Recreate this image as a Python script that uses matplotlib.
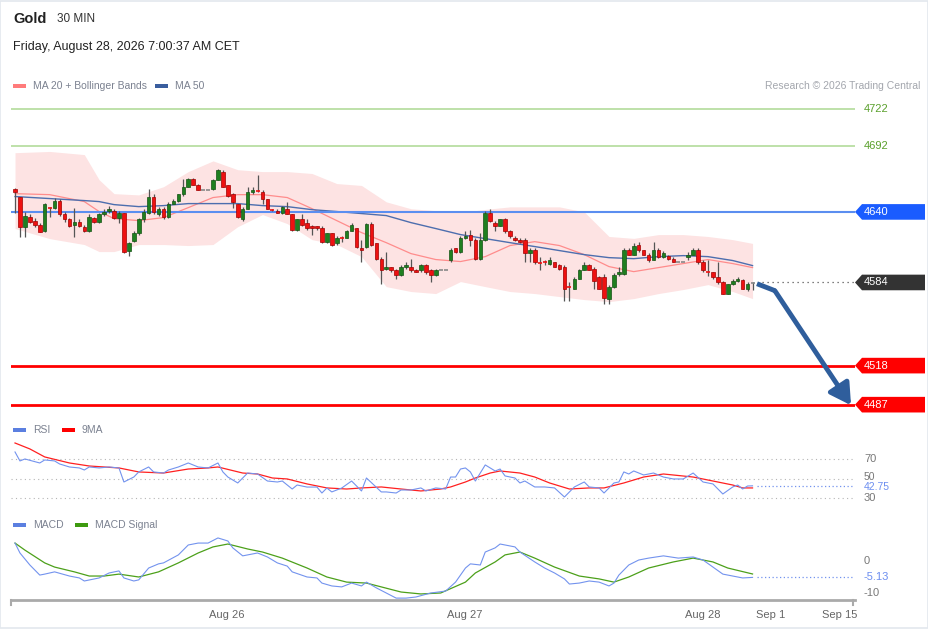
import matplotlib
matplotlib.use('Agg')
from matplotlib import pyplot as plt
from matplotlib.patches import Polygon, Rectangle
from matplotlib.transforms import blended_transform_factory

plt.rcParams['font.family'] = ['Liberation Sans', 'DejaVu Sans']

# ---- candles (30 min) ----
opens = [4658, 4652, 4628, 4636, 4633, 4630, 4625, 4643, 4643, 4649,
         4638, 4634, 4630, 4632, 4628, 4625, 4635, 4632, 4638, 4641,
         4641, 4635.5, 4639, 4609, 4617, 4623, 4634, 4639.5, 4652, 4638,
         4642.5, 4636, 4646.5, 4649, 4654, 4660, 4666.5, 4661.5, 4657.5, 4657.5,
         4658.5, 4665.5, 4672, 4661, 4654.5, 4646, 4634, 4642.5, 4656, 4657,
         4656, 4650, 4642, 4641, 4639.5, 4642.5, 4638, 4626, 4634, 4631,
         4628.5, 4628.5, 4627.5, 4616.5, 4623, 4615, 4619.5, 4619.5, 4625, 4627,
         4611.5, 4612.5, 4630.5, 4615, 4603, 4595, 4596, 4594, 4590, 4596.5,
         4596.5, 4594, 4593.5, 4598, 4594, 4590, 4594, 4594, 4602, 4611,
         4608.5, 4619.5, 4622, 4618, 4603, 4618, 4639.5, 4631.5, 4629, 4634,
         4625, 4619.5, 4618, 4618, 4607, 4610, 4600, 4600.5, 4599, 4600,
         4598, 4596.5, 4580.5, 4579, 4587, 4594, 4598, 4595, 4588.5, 4588.5,
         4571, 4580.5, 4591, 4591, 4610, 4606, 4614, 4609.5, 4606, 4602,
         4610, 4604.5, 4605, 4603, 4600.5, 4600.5, 4604.5, 4606, 4610, 4600.5,
         4592.5, 4592, 4588.5, 4584.5, 4575, 4583, 4585.5, 4586, 4578.5, 4583]
closes = [4656, 4628, 4637, 4632, 4630, 4624, 4646, 4642.5, 4649, 4638,
          4634, 4629, 4632, 4629, 4625, 4636, 4632, 4638, 4640, 4642,
          4635, 4639.5, 4608.5, 4615.5, 4623, 4634, 4640, 4652, 4640, 4642.5,
          4636, 4646.5, 4649, 4654, 4660, 4666.5, 4661.5, 4657.5, 4657.5, 4657.5,
          4665.5, 4673, 4660, 4653, 4648, 4636, 4642.5, 4656, 4657, 4656.5,
          4650, 4642.5, 4641.5, 4639.5, 4644, 4638.5, 4626, 4634, 4630, 4627.5,
          4627.5, 4627, 4616.5, 4623, 4614, 4619.5, 4619, 4625, 4630, 4612.5,
          4610, 4630.5, 4614, 4603, 4594, 4596, 4593.5, 4590, 4596.5, 4597.5,
          4593.5, 4592.5, 4598, 4592.5, 4590, 4594, 4594, 4594, 4610, 4608.5,
          4619.5, 4621, 4618, 4603, 4618, 4639.5, 4633, 4629, 4634, 4624.5,
          4620.5, 4618, 4616.5, 4607, 4610, 4600.5, 4599.5, 4600, 4601.5, 4596.5,
          4595, 4579, 4580, 4587, 4594, 4598, 4594, 4585.5, 4579, 4572,
          4580.5, 4590, 4592, 4610, 4606, 4613, 4609.5, 4606, 4601.5, 4610,
          4604.5, 4607.5, 4603, 4600.5, 4600.5, 4600.5, 4606, 4610, 4600, 4593.5,
          4592, 4588, 4584, 4575, 4582.5, 4585.5, 4587, 4579, 4583, 4583.5]
highs = [4659, 4652, 4640, 4638, 4635, 4631, 4647, 4644, 4651, 4650,
         4640, 4635.5, 4643, 4634, 4630, 4638, 4636, 4639.5, 4642.5, 4645,
         4642.5, 4641, 4639.5, 4616.5, 4624.5, 4635.5, 4642, 4658.5, 4654, 4644,
         4644, 4648, 4650.5, 4654.5, 4666.5, 4667, 4667, 4662.5, 4657.5, 4657.5,
         4666.5, 4674, 4673, 4661.5, 4655, 4646.5, 4644, 4660, 4660, 4669.5,
         4657, 4650.5, 4642.5, 4642, 4645, 4648, 4638.5, 4634.5, 4638, 4634.5,
         4630, 4629, 4628.5, 4623.5, 4623.5, 4620.5, 4621, 4626, 4631, 4627.5,
         4618, 4631.5, 4632, 4615.5, 4604, 4608.5, 4596.5, 4595, 4597.5, 4600,
         4603, 4595, 4599, 4599, 4595, 4595, 4594, 4594, 4611.5, 4611.5,
         4620.5, 4624.5, 4626, 4619, 4623.5, 4640.5, 4642, 4632.5, 4634.5, 4635,
         4626, 4620.5, 4619, 4619, 4611, 4611, 4604.5, 4602, 4604.5, 4600.5,
         4599, 4597.5, 4584.5, 4588, 4595, 4600.5, 4599, 4596, 4589.5, 4590.5,
         4582, 4591.5, 4596, 4611.5, 4611.5, 4615, 4616.5, 4610, 4607, 4616.5,
         4611, 4609, 4606, 4604, 4600.5, 4600.5, 4608.5, 4611, 4611, 4601.5,
         4602, 4592.5, 4600, 4585.5, 4583, 4587, 4588, 4587, 4584, 4584]
lows = [4639, 4620, 4620, 4631, 4628, 4624, 4624, 4636, 4642, 4637,
        4632, 4628, 4620, 4628, 4624, 4624, 4631, 4631.5, 4637, 4639.5,
        4634.5, 4631.5, 4607, 4605, 4616.5, 4622, 4632, 4638.5, 4638, 4637,
        4634, 4635.5, 4646, 4648, 4653, 4659.5, 4661, 4657, 4657.5, 4657.5,
        4657.5, 4665, 4659.5, 4652, 4643.5, 4635, 4633, 4642, 4654.5, 4656,
        4646, 4642, 4641, 4639, 4638.5, 4638, 4624.5, 4625, 4629, 4626,
        4622, 4626, 4615.5, 4615.5, 4613, 4614, 4616.5, 4619, 4624.5, 4611.5,
        4600, 4611.5, 4613, 4602, 4583, 4594, 4592.5, 4586.5, 4589.5, 4595,
        4592.5, 4592, 4592.5, 4591, 4584.5, 4589.5, 4594, 4594, 4600.5, 4607.5,
        4607.5, 4618.5, 4613, 4602, 4602, 4617, 4632, 4624.5, 4628.5, 4623.5,
        4619.5, 4617, 4615.5, 4600.5, 4600.5, 4599, 4594, 4598, 4598, 4596,
        4594, 4569.5, 4569, 4578.5, 4586.5, 4593.5, 4593.5, 4579, 4578.5, 4567,
        4567, 4580, 4589, 4590, 4605.5, 4605.5, 4608.5, 4605.5, 4600.5, 4601.5,
        4603.5, 4603.5, 4602, 4600, 4600.5, 4600.5, 4602, 4605.5, 4599, 4592.5,
        4589.5, 4587, 4583, 4574.5, 4574.5, 4582, 4584.5, 4578.5, 4577.5, 4578]

# ---- Bollinger bands / moving averages, sampled at candle numbers ----
band_idx = [0, 7, 14, 17, 20, 25, 30, 35, 40, 45, 50, 55, 60, 65, 70, 75,
            80, 85, 90, 95, 100, 105, 110, 115, 120, 125, 130, 135, 140, 145, 149]
band_upper = [4687, 4688, 4685.5, 4665.5, 4654.5, 4653.5, 4660, 4672, 4680.5, 4673.5,
              4672, 4672, 4670.5, 4662.5, 4661, 4648, 4642.5, 4641, 4639.5, 4642,
              4644, 4644, 4644, 4640, 4620.5, 4619, 4622, 4622, 4620.5, 4618, 4615]
band_lower = [4626.8, 4618.8, 4614.1, 4608.5, 4608.5, 4614.1, 4614.1, 4613.3, 4614.1, 4628.3,
              4637.9, 4630.7, 4618, 4614.1, 4604.5, 4580.7, 4576.8, 4575.2, 4584.7, 4580.7,
              4576.8, 4575.2, 4572.8, 4570.4, 4568.8, 4571.2, 4575.2, 4578.4, 4582.3, 4576.8, 4571.2]
ma20 = [4654.5, 4653.7, 4648.2, 4640.3, 4634.7, 4633.1, 4635.5, 4643.4, 4651.4, 4653.7,
        4653.7, 4651.4, 4642.6, 4633.1, 4623.6, 4615.6, 4606.9, 4602.2, 4600.6, 4604.5,
        4613.3, 4616.4, 4613.3, 4606.1, 4596.6, 4592.6, 4595.8, 4599.0, 4602.2, 4599.0, 4595.8]
ma50 = [4652.2, 4650.6, 4649.0, 4648.2, 4645.8, 4644.2, 4645.0, 4646.6, 4646.6, 4646.6,
        4645.0, 4644.2, 4641.8, 4640.3, 4638.7, 4637.1, 4631.5, 4626.8, 4622.0, 4618.8,
        4615.6, 4612.5, 4609.3, 4606.1, 4603.7, 4602.9, 4604.5, 4605.3, 4604.5, 4601.4, 4597.4]

# ---- RSI and its 9MA ----
rsi_idx = [0, 1, 2, 5, 6, 8, 9, 11, 13, 14, 15, 17, 19, 21, 22, 24, 25, 27, 28, 30,
           31, 33, 35, 37, 39, 41, 42, 43, 45, 47, 49, 51, 53, 54, 56, 57, 59, 61, 62, 63,
           64, 66, 68, 70, 71, 74, 75, 77, 78, 80, 82, 83, 85, 87, 88, 89, 90, 91, 92, 93,
           95, 97, 98, 99, 101, 102, 103, 105, 107, 109, 111, 113, 115, 116, 118, 119, 121, 122, 123, 124,
           125, 127, 129, 131, 133, 135, 137, 139, 141, 143, 145, 146, 147, 148, 149]
rsi_val = [77.5, 68.3, 70.3, 66.2, 69.3, 68.3, 65.2, 62.1, 61.1, 59.0, 62.1, 61.1, 62.1, 61.1, 46.7,
           51.8, 57.0, 62.1, 57.0, 55.9, 59.0, 62.1, 66.2, 62.1, 61.1, 66.2, 57.0, 51.8, 45.7, 55.9,
           54.9, 47.7, 46.7, 47.7, 39.5, 43.6, 41.5, 41.5, 35.4, 40.5, 36.5, 40.5, 47.7, 37.5, 50.8,
           36.5, 36.5, 35.4, 38.5, 38.5, 40.6, 37.5, 40.6, 39.5, 51.8, 51.8, 60.0, 61.1, 57.0, 47.7,
           64.2, 58.0, 60.0, 52.9, 50.8, 45.7, 47.7, 41.6, 41.6, 40.6, 31.3, 41.6, 46.7, 41.6, 40.6,
           35.4, 45.7, 46.7, 57.0, 54.9, 58.0, 53.9, 55.9, 51.8, 49.8, 49.8, 55.9, 46.7, 44.7, 34.4,
           41.6, 43.6, 39.5, 42.6, 42.75]
rsi_ma_idx = [0, 3, 6, 11, 15, 21, 25, 30, 35, 39, 41, 46, 49, 52, 55, 59, 63, 67, 70, 74,
              78, 82, 86, 88, 91, 93, 96, 98, 102, 105, 108, 112, 116, 119, 123, 127, 131, 137, 141, 145,
              147, 149]
rsi_ma_val = [86.7, 80.6, 72.4, 66.2, 63.1, 61.1, 57.0, 55.9, 60.0, 61.1, 62.1, 55.9, 54.9, 50.8,
              49.8, 44.7, 40.6, 39.5, 40.6, 41.6, 39.5, 37.5, 39.5, 41.6, 46.7, 50.8, 55.9, 58.0,
              55.9, 51.8, 45.7, 39.5, 40.6, 40.6, 45.7, 51.8, 54.9, 51.8, 47.7, 43.6, 40.6, 40.6]
rsi_levels = [70, 50, 30]
rsi_last = 42.75

# ---- MACD and signal ----
macd_idx = [0, 1, 3, 5, 6, 8, 11, 13, 14, 17, 19, 21, 22, 24, 25, 27, 29, 30, 33, 35,
            37, 39, 41, 43, 44, 46, 49, 51, 53, 55, 56, 59, 61, 62, 64, 66, 68, 70, 71, 73,
            75, 77, 79, 81, 84, 87, 89, 91, 92, 94, 95, 97, 98, 101, 102, 105, 107, 109, 111, 112,
            114, 116, 118, 120, 121, 122, 124, 126, 128, 131, 134, 137, 139, 141, 143, 145, 147, 149]
macd_val = [5.6, 2.5, -1.25, -4.4, -4.1, -3.4, -4.7, -5.3, -6.25, -5.3, -3.75, -3.1, -5.3, -6.25,
            -5.9, -2.2, -0.9, -0.6, 1.9, 5.0, 5.6, 5.6, 7.2, 6.25, 4.1, 1.6, 2.5, 1.25, -0.6, -1.6,
            -3.4, -5.0, -5.3, -6.9, -7.8, -8.1, -6.9, -7.8, -6.6, -8.4, -10.0, -11.6, -11.6, -11.25,
            -10.0, -9.4, -6.6, -2.2, -0.9, -1.25, 2.8, 4.1, 5.3, 4.4, 2.8, -0.3, -2.2, -3.75, -5.6,
            -7.2, -6.9, -6.25, -6.6, -7.8, -6.9, -4.4, -1.25, 0.3, 0.9, 1.6, 0.9, 1.25, 0.3, -1.9,
            -4.1, -4.7, -5.3, -5.13]
signal_idx = [0, 2, 6, 8, 12, 15, 18, 21, 25, 29, 33, 37, 40, 43, 47, 50, 54, 59, 63, 67,
              71, 74, 78, 82, 86, 91, 93, 97, 99, 102, 105, 109, 114, 118, 121, 124, 128, 133, 137, 141,
              144, 149]
signal_val = [5.6, 3.4, -0.6, -1.9, -3.4, -4.7, -4.7, -4.1, -5.0, -3.4, -0.6, 2.5, 4.4, 5.3, 3.75,
              2.8, 0.9, -2.2, -5.0, -6.6, -6.9, -8.1, -9.7, -10.3, -10.0, -6.6, -3.75, -0.3, 1.9, 2.8,
              0.9, -1.9, -4.7, -5.6, -6.6, -5.0, -2.2, -0.3, 0.9, -0.3, -2.2, -4.06]
macd_last = -5.13

# ---- key levels and forecast ----
resist_levels = [4722, 4692]
pivot_level = 4640
support_levels = [4518, 4487]
last_price = 4584
forecast_idx = [149.9, 153.5, 168.9]
forecast_price = [4583, 4577.5, 4486.5]

tick_pos = [42.8, 90.9, 139, 152.7, 166.7]
tick_labels = ['Aug 26', 'Aug 27', 'Aug 28', 'Sep 1', 'Sep 15']

W, H = 929, 629
fig = plt.figure(figsize=(W / 100, H / 100), dpi=100)


def fx(px):
    return px / W


def fy(py):
    return 1 - py / H


left, right = 11, 855
xlim = (-0.81, 169.7)
ax = fig.add_axes([fx(left), fy(415), fx(right) - fx(left), 320 / H])
ax_r = fig.add_axes([fx(left), fy(505), fx(right) - fx(left), 70 / H])
ax_m = fig.add_axes([fx(left), fy(600), fx(right) - fx(left), 65 / H])
for a in (ax, ax_r, ax_m):
    a.set_xlim(*xlim)
    for s in a.spines.values():
        s.set_visible(False)
    a.set_yticks([])
    a.set_xticks([])
    a.patch.set_alpha(0)
ax.set_ylim(4478.8, 4732.8)
ax_r.set_ylim(23.1, 94.9)
ax_m.set_ylim(-12.19, 8.12)

# frame round the whole picture
fig.add_artist(Rectangle((0.0005, 0.0008), 0.998, 0.998, transform=fig.transFigure,
                         fill=False, edgecolor='#e3e8ee', lw=1.2))

# ---- header ----
fig.text(fx(13), fy(19), 'Gold', fontsize=10.5, fontweight='bold', color='#222222', va='center')
fig.text(fx(57), fy(19), '30 MIN', fontsize=8.5, color='#333333', va='center')
fig.text(fx(13), fy(47), 'Friday, August 28, 2026 7:00:37 AM CET', fontsize=9, color='#222222', va='center')


def legend_item(x, y, color, label):
    fig.add_artist(Rectangle((fx(x), fy(y + 2)), 13 / W, 4 / H, transform=fig.transFigure,
                             facecolor=color, edgecolor='none'))
    fig.text(fx(x + 20), fy(y), label, fontsize=7.5, color='#7b8190', va='center')


legend_item(13, 86, '#ff7b7b', 'MA 20 + Bollinger Bands')
legend_item(155, 86, '#3a5e9e', 'MA 50')
fig.text(fx(920), fy(86), 'Research \u00a9 2026 Trading Central', fontsize=7.5,
         color='#a3a6ad', va='center', ha='right')
legend_item(13, 430, '#5b7fe0', 'RSI')
legend_item(62, 430, '#ff0000', '9MA')
legend_item(13, 525, '#5b7fe0', 'MACD')
legend_item(75, 525, '#3d9a0f', 'MACD Signal')

# ---- price panel ----
ax.fill_between(band_idx, band_lower, band_upper, color='#fde3e3', lw=0, zorder=1)
ax.plot(band_idx, ma20, color='#ff8c8c', lw=0.9, zorder=2)
ax.plot(band_idx, ma50, color='#4d6eae', lw=1.0, zorder=2)

for lv in resist_levels:
    ax.axhline(lv, color='#acd992', lw=1.1, zorder=2)
ax.axhline(pivot_level, color='#5b8ef0', lw=1.5, zorder=2)
for lv in support_levels:
    ax.axhline(lv, color='#ff0000', lw=2, zorder=2)
ax.plot([151, xlim[1]], [last_price, last_price], color='#555555', lw=0.9,
        ls=(0, (1, 3)), zorder=2)

n = len(closes)
for i in range(n):
    o, c, h, l = opens[i], closes[i], highs[i], lows[i]
    if i == n - 1 or c == o:
        col, edge = '#888888', '#888888'
    elif c > o:
        col, edge = '#1f7f1f', '#145214'
    else:
        col, edge = '#ee1111', '#a00000'
    ax.vlines(i, l, h, color='#555555', lw=0.9, zorder=3)
    body = abs(c - o)
    if body < 0.6:
        ax.hlines((o + c) / 2, i - 0.4, i + 0.4, color=col, lw=1.2, zorder=4)
    else:
        ax.bar(i, body, bottom=min(o, c), width=0.72, color=col, edgecolor=edge,
               lw=0.5, zorder=4)

# forecast arrow
arrow_col = '#2f5e9c'
ax.plot(forecast_idx[:2], forecast_price[:2], color=arrow_col, lw=3.5,
        solid_capstyle='butt', zorder=5)
ax.annotate('', xy=(forecast_idx[2], forecast_price[2]),
            xytext=(forecast_idx[1], forecast_price[1]),
            arrowprops=dict(arrowstyle='-|>,head_length=0.7,head_width=0.4', color=arrow_col,
                            lw=3.5, shrinkA=0, shrinkB=0, mutation_scale=18),
            annotation_clip=False, zorder=5)

# right hand labels
ax_w = right - left


def ax_x(px):
    return (px - left) / ax_w


def tag(a, y, text, color, half):
    trans = blended_transform_factory(a.transAxes, a.transData)
    poly = Polygon([[1.0, y], [ax_x(862), y + half], [ax_x(925), y + half],
                    [ax_x(925), y - half], [ax_x(862), y - half]], closed=True,
                   transform=trans, facecolor=color, edgecolor='none', clip_on=False)
    a.add_patch(poly)
    a.text(ax_x(864), y, text, transform=trans, color='white', fontsize=8,
           va='center', ha='left')


def side_text(a, y, text, color, size=8, **kw):
    trans = blended_transform_factory(a.transAxes, a.transData)
    return a.text(ax_x(864), y, text, transform=trans, color=color, fontsize=size,
                  va='center', ha='left', clip_on=False, **kw)


for lv in resist_levels:
    side_text(ax, lv, str(lv), '#5aa02c')
tag(ax, pivot_level, str(pivot_level), '#1a5cff', 6.2)
tag(ax, last_price, str(last_price), '#333333', 6.2)
for lv in support_levels:
    tag(ax, lv, str(lv), '#ff0000', 6.2)

# ---- RSI panel ----
for lv in rsi_levels:
    ax_r.axhline(lv, color='#b5b5b5', lw=0.8, ls=(0, (1, 3)))
side_text(ax_r, 70, '70', '#777777')
side_text(ax_r, 52.3, '50', '#777777', size=7.5)
side_text(ax_r, 30, '30', '#777777')
ax_r.plot(rsi_ma_idx, rsi_ma_val, color='#ff2020', lw=0.9)
ax_r.plot(rsi_idx, rsi_val, color='#7393ee', lw=0.8)
ax_r.plot([rsi_idx[-1] + 1, xlim[1]], [rsi_last, rsi_last], color='#7393ee', lw=0.9, ls=(0, (1, 2)))
side_text(ax_r, rsi_last - 0.8, '%.2f' % rsi_last, '#6c8ef0', size=7.5)

# ---- MACD panel ----
ax_m.plot(signal_idx, signal_val, color='#4ca01a', lw=0.9)
ax_m.plot(macd_idx, macd_val, color='#7393ee', lw=0.8)
ax_m.plot([macd_idx[-1] + 1, xlim[1]], [macd_last, macd_last], color='#7393ee', lw=0.9, ls=(0, (1, 2)))
side_text(ax_m, 0, '0', '#777777')
side_text(ax_m, -10, '-10', '#777777')
side_text(ax_m, macd_last, '%.2f' % macd_last, '#6c8ef0')

ax_m.spines['bottom'].set_visible(True)
ax_m.spines['bottom'].set_color('#aaaaaa')
ax_m.spines['bottom'].set_linewidth(2)
ax_m.set_xticks(tick_pos)
ax_m.set_xticklabels(tick_labels, fontsize=8, color='#666666')
ax_m.tick_params(axis='x', length=0, pad=7)
for xa in (0.0, ax_x(853)):
    ax_m.plot([xa, xa], [0, -0.08], transform=ax_m.transAxes, color='#aaaaaa', lw=1.5,
              clip_on=False)

fig.savefig('out.png', dpi=100)
